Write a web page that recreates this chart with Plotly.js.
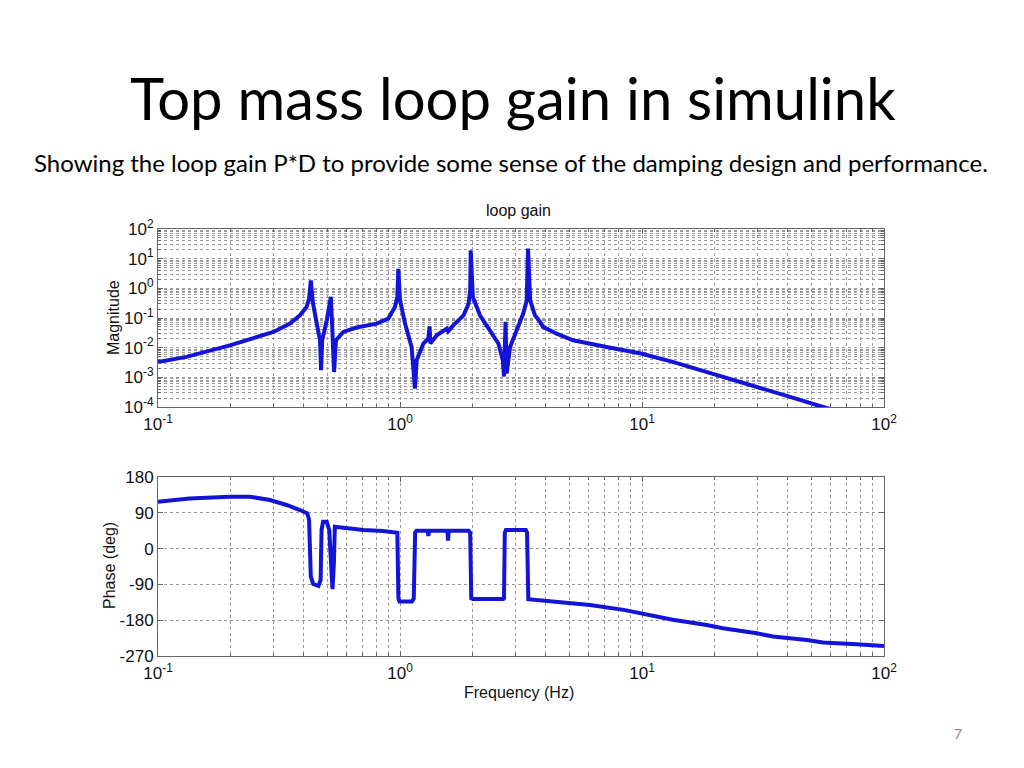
<!DOCTYPE html>
<html>
<head>
<meta charset="utf-8">
<script src="https://cdn.plot.ly/plotly-3.0.1.min.js"></script>
<style>
  html, body { margin: 0; padding: 0; background: #ffffff; }
  #chart { width: 1024px; height: 768px; }
</style>
</head>
<body>
<div id="chart"></div>
<script>
// Magnitude of loop gain P*D
var magFreq = [0.1, 0.131, 0.198, 0.248, 0.300, 0.351, 0.386, 0.411, 0.421, 0.428, 0.436, 0.453, 0.467, 0.472, 0.477,
  0.498, 0.510, 0.518, 0.524, 0.534, 0.544, 0.583, 0.662, 0.801, 0.895, 0.953, 0.975, 0.984, 1.0, 1.049,
  1.117, 1.153, 1.172, 1.249, 1.309, 1.325, 1.335, 1.419, 1.560, 1.58, 1.66, 1.83, 1.92, 1.95, 1.96,
  2.00, 2.14, 2.36, 2.55, 2.66, 2.69, 2.73, 2.76, 2.85, 3.04, 3.23, 3.34, 3.38, 3.45, 3.61,
  3.79, 3.90, 4.44, 5.19, 7.14, 9.8, 13.4, 15.8, 21.6, 25.4, 34.8, 40.9, 56, 100];
var magValue = [0.00331, 0.0049, 0.012, 0.0204, 0.0339, 0.0646, 0.123, 0.234, 0.447, 1.86, 0.347, 0.0646, 0.0178, 0.00174, 0.0178,
  0.0832, 0.234, 0.513, 0.0646, 0.00151, 0.0178, 0.0339, 0.0479, 0.0646, 0.0955, 0.234, 0.513, 4.57, 0.398, 0.0646,
  0.0105, 0.000417, 0.0038, 0.0138, 0.0204, 0.0525, 0.0138, 0.0263, 0.0437, 0.0355, 0.0562, 0.123, 0.302, 0.851, 19.1,
  0.513, 0.123, 0.0389, 0.0138, 0.0038, 0.00105, 0.0741, 0.00135, 0.0105, 0.0389, 0.141, 0.398, 21.9, 0.398, 0.123,
  0.0741, 0.0501, 0.0295, 0.0178, 0.0105, 0.00646, 0.00331, 0.00224, 0.00105, 0.000708, 0.000324, 0.000219, 0.0001, 0.0000251];

// Phase of loop gain (deg)
var phaseFreq = [0.1, 0.135, 0.198, 0.240, 0.290, 0.340, 0.386, 0.414, 0.421, 0.425, 0.428, 0.438, 0.460, 0.470, 0.474,
  0.481, 0.498, 0.510, 0.518, 0.526, 0.533, 0.538, 0.583, 0.706, 0.852, 0.967, 0.975, 0.985, 0.995, 1.12,
  1.14, 1.155, 1.17, 1.30, 1.31, 1.32, 1.57, 1.58, 1.59, 1.92, 1.95, 1.97, 2.0, 2.67, 2.69,
  2.71, 2.74, 3.31, 3.35, 3.39, 4.45, 6.1, 8.4, 11.5, 13.4, 18.5, 21.6, 29.8, 34.8, 48, 56, 77, 100];
var phaseValue = [118, 126, 130.5, 130.5, 122, 109.6, 97, 88.7, 72, 4.8, -70.6, -89, -94, -79, 46.8,
  67.7, 67.7, 46.8, -37, -102, -37, 55, 52.6, 46.8, 44.3, 42.5, 40, -125, -133, -133,
  -125, 40, 45, 45, 31.7, 45, 45, 20, 45, 45, 40, -125, -127, -127, -125,
  40, 47, 47, 40, -127, -133, -141.7, -154, -169.4, -179, -192, -200, -213, -221, -230, -236, -240.6, -245];

// Tick values / labels
var freqTicks = [0.1, 1, 10, 100];
var freqTickText = ['10<sup>-1</sup>', '10<sup>0</sup>', '10<sup>1</sup>', '10<sup>2</sup>'];
var magTicks = [0.0001, 0.001, 0.01, 0.1, 1, 10, 100];
var magTickText = ['10<sup>-4</sup>', '10<sup>-3</sup>', '10<sup>-2</sup>', '10<sup>-1</sup>', '10<sup>0</sup>', '10<sup>1</sup>', '10<sup>2</sup>'];
var phaseTicks = [-270, -180, -90, 0, 90, 180];
var phaseTickText = ['-270', '-180', '-90', '0', '90', '180'];

var lineStyle = {color: '#1414d8', width: 4};
var axisFont = {family: 'Liberation Sans, Arial, sans-serif', size: 16, color: '#111'};
var tickFont = {family: 'Liberation Sans, Arial, sans-serif', size: 17, color: '#111'};
var gridCol = '#9a9a9a';
var frameCol = '#666';

function logX(anchor) {
  return {
    type: 'log', range: [-1, 2], domain: [158/1024, 884/1024], anchor: anchor,
    tickmode: 'array', tickvals: freqTicks, ticktext: freqTickText, tickfont: tickFont,
    ticklabelstandoff: 2,
    showline: true, linecolor: frameCol, linewidth: 1, mirror: 'allticks',
    ticks: 'inside', ticklen: 5, tickcolor: frameCol,
    showgrid: true, gridcolor: gridCol, griddash: 'dot', gridwidth: 1,
    minor: {dtick: 'D1', showgrid: true, gridcolor: gridCol, griddash: 'dot', gridwidth: 1,
            ticks: 'inside', ticklen: 3, tickcolor: frameCol},
    zeroline: false, fixedrange: true
  };
}

var data = [
  {x: magFreq, y: magValue, type: 'scatter', mode: 'lines', line: lineStyle, xaxis: 'x', yaxis: 'y', hoverinfo: 'x+y'},
  {x: phaseFreq, y: phaseValue, type: 'scatter', mode: 'lines', line: lineStyle, xaxis: 'x2', yaxis: 'y2', hoverinfo: 'x+y'}
];

var layout = {
  width: 1024, height: 768,
  margin: {l: 0, r: 0, t: 0, b: 0},
  paper_bgcolor: '#ffffff', plot_bgcolor: '#ffffff',
  showlegend: false,
  xaxis: logX('y'),
  xaxis2: logX('y2'),
  yaxis: {
    type: 'log', range: [-4, 2], domain: [1 - 407/768, 1 - 229/768], anchor: 'x',
    tickmode: 'array', tickvals: magTicks, ticktext: magTickText, tickfont: tickFont,
    showline: true, linecolor: frameCol, linewidth: 1, mirror: 'allticks',
    ticks: 'inside', ticklen: 5, tickcolor: frameCol,
    showgrid: true, gridcolor: gridCol, griddash: 'dot', gridwidth: 1,
    minor: {dtick: 'D1', showgrid: true, gridcolor: gridCol, griddash: 'dot', gridwidth: 1,
            ticks: 'inside', ticklen: 3, tickcolor: frameCol},
    zeroline: false, fixedrange: true
  },
  yaxis2: {
    range: [-270, 180], domain: [1 - 656/768, 1 - 477/768], anchor: 'x2',
    tickmode: 'array', tickvals: phaseTicks, ticktext: phaseTickText, tickfont: tickFont,
    showline: true, linecolor: frameCol, linewidth: 1, mirror: 'allticks',
    ticks: 'inside', ticklen: 5, tickcolor: frameCol,
    showgrid: true, gridcolor: gridCol, griddash: 'dot', gridwidth: 1,
    zeroline: false, fixedrange: true
  },
  annotations: [
    {text: 'Top mass loop gain in simulink', xref: 'paper', yref: 'paper', x: 513/1024, y: 1 - 98/768,
     xanchor: 'center', yanchor: 'middle', showarrow: false,
     font: {family: 'Lato, Open Sans, sans-serif', size: 58, color: '#000'}},
    {text: 'Showing the loop gain P*D to provide some sense of the damping design and performance.',
     xref: 'paper', yref: 'paper', x: 511/1024, y: 1 - 162/768, xanchor: 'center', yanchor: 'middle', showarrow: false,
     font: {family: 'Lato, Open Sans, sans-serif', size: 24, color: '#000'}},
    {text: 'loop gain', xref: 'paper', yref: 'paper', x: 518/1024, y: 1 - 211/768,
     xanchor: 'center', yanchor: 'middle', showarrow: false, font: axisFont},
    {text: 'Magnitude', xref: 'paper', yref: 'paper', x: 113/1024, y: 1 - 318/768, textangle: -90,
     xanchor: 'center', yanchor: 'middle', showarrow: false, font: axisFont},
    {text: 'Phase (deg)', xref: 'paper', yref: 'paper', x: 109/1024, y: 1 - 566/768, textangle: -90,
     xanchor: 'center', yanchor: 'middle', showarrow: false, font: axisFont},
    {text: 'Frequency (Hz)', xref: 'paper', yref: 'paper', x: 519/1024, y: 1 - 692/768,
     xanchor: 'center', yanchor: 'middle', showarrow: false, font: axisFont},
    {text: '7', xref: 'paper', yref: 'paper', x: 958/1024, y: 1 - 733/768,
     xanchor: 'center', yanchor: 'middle', showarrow: false,
     font: {family: 'Lato, Open Sans, sans-serif', size: 14, color: '#8c8c8c'}}
  ]
};

Plotly.newPlot('chart', data, layout, {staticPlot: true, displayModeBar: false});
</script>
</body>
</html>
